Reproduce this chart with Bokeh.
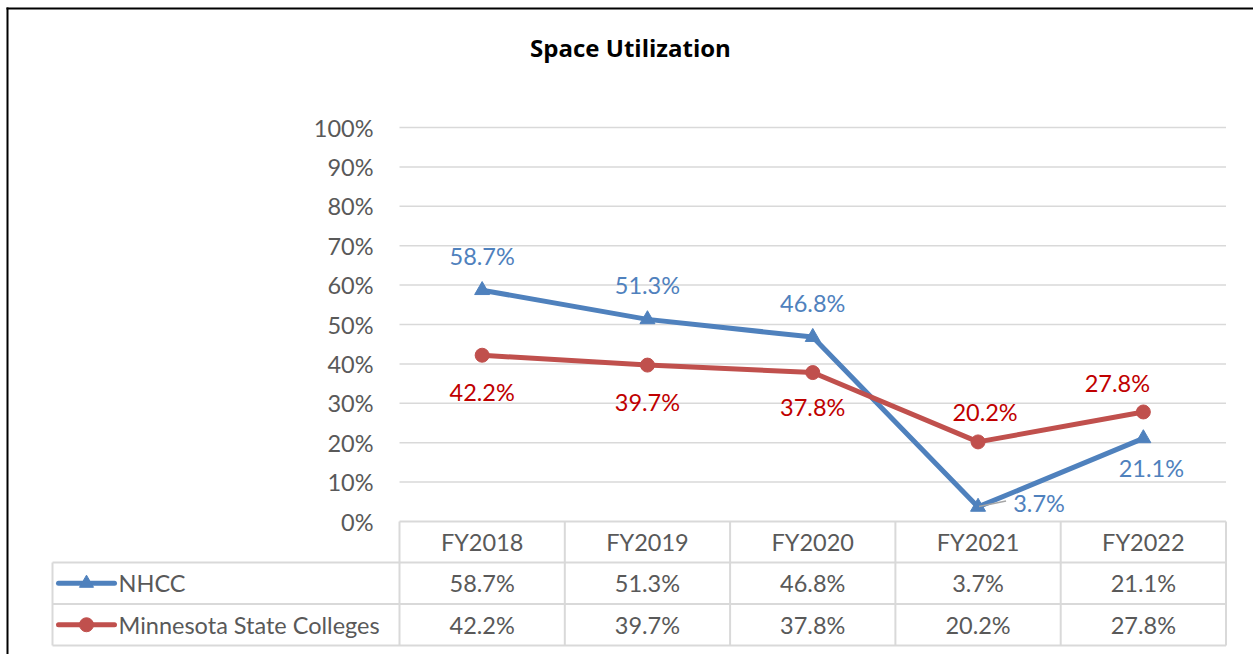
from bokeh.plotting import figure
from bokeh.models import Range1d
from bokeh.core.properties import value
from bokeh.embed import file_html
from bokeh.resources import INLINE

# ---------------- data ----------------
chart_title = "Space Utilization"
categories = ["FY2018", "FY2019", "FY2020", "FY2021", "FY2022"]
series_names = ["NHCC", "Minnesota State Colleges"]
nhcc = [58.7, 51.3, 46.8, 3.7, 21.1]
msc = [42.2, 39.7, 37.8, 20.2, 27.8]
y_ticks = [0, 10, 20, 30, 40, 50, 60, 70, 80, 90, 100]
y_tick_labels = ["0%", "10%", "20%", "30%", "40%", "50%", "60%", "70%", "80%", "90%", "100%"]

# ---------------- layout (canvas pixels) ----------------
W, H = 1253, 654
PLOT_L, PLOT_R = 399.0, 1225.5
Y100, Y0 = 127.0, 521.0
n = len(categories)
cw = (PLOT_R - PLOT_L) / n
py = (Y0 - Y100) / 100.0


def X(cx):
    return (cx - PLOT_L) / cw - 0.5


def Y(cy):
    return (Y0 - cy) / py


FONT = value("Lato")
FS = value("23.5px")
GRAY_TXT = "#595959"
GRID = "#d9d9d9"
BLUE = "#4f81bd"
RED = "#c0504d"
BLUE_TXT = "#4f81bd"
RED_TXT = "#c00000"

p = figure(width=W, height=H,
           x_range=Range1d(X(0), X(W)), y_range=Range1d(Y(H), Y(0)),
           x_axis_location=None, y_axis_location=None,
           toolbar_location=None, output_backend="svg", min_border=0)
p.outline_line_color = None
p.background_fill_color = "white"
p.border_fill_color = "white"
p.xgrid.visible = False
p.ygrid.visible = False

xs = list(range(n))

# gridlines
grid_ticks = y_ticks[1:]
p.segment(x0=[X(PLOT_L)] * len(grid_ticks), x1=[X(PLOT_R)] * len(grid_ticks),
          y0=grid_ticks, y1=grid_ticks, line_color=GRID, line_width=1.5)

# y tick labels
p.text(x=[X(373)] * len(y_ticks), y=y_ticks, text=y_tick_labels,
       text_font=FONT, text_font_size=FS, text_color=GRAY_TXT,
       text_align="right", text_baseline="middle")

# title
p.text(x=[X(630)], y=[Y(46.5)], text=[chart_title], text_font=value("Open Sans"),
       text_font_size=value("24px"), text_font_style="bold", text_color="black",
       text_align="center", text_baseline="middle")

# ---------------- data table ----------------
TBL_L = 52.0
R0, R1, R2, R3 = 521.0, 562.0, 603.5, 645.0
hx0 = [X(PLOT_L), X(TBL_L), X(TBL_L), X(TBL_L)]
hx1 = [X(PLOT_R)] * 4
hy = [Y(R0), Y(R1), Y(R2), Y(R3)]
p.segment(x0=hx0, x1=hx1, y0=hy, y1=hy, line_color=GRID, line_width=2)
vx = [X(TBL_L)] + [X(PLOT_L + k * cw) for k in range(n + 1)]
vy0 = [Y(R1)] + [Y(R0)] * (n + 1)
vy1 = [Y(R3)] * (n + 2)
p.segment(x0=vx, x1=vx, y0=vy0, y1=vy1, line_color=GRID, line_width=2)

p.text(x=xs, y=[Y((R0 + R1) / 2)] * n, text=categories, text_font=FONT,
       text_font_size=FS, text_color=GRAY_TXT, text_align="center", text_baseline="middle")
p.text(x=xs, y=[Y((R1 + R2) / 2)] * n, text=[f"{v:.1f}%" for v in nhcc], text_font=FONT,
       text_font_size=FS, text_color=GRAY_TXT, text_align="center", text_baseline="middle")
p.text(x=xs, y=[Y((R2 + R3) / 2)] * n, text=[f"{v:.1f}%" for v in msc], text_font=FONT,
       text_font_size=FS, text_color=GRAY_TXT, text_align="center", text_baseline="middle")

# legend keys in table
for (cy, col, mk) in [((R1 + R2) / 2, BLUE, "triangle"), ((R2 + R3) / 2, RED, "circle")]:
    p.line(x=[X(58), X(114)], y=[Y(cy), Y(cy)], line_color=col, line_width=5, line_cap="round")
    p.scatter(x=[X(86)], y=[Y(cy)], marker=mk, size=14, fill_color=col, line_color=col)
p.text(x=[X(118), X(118)], y=[Y((R1 + R2) / 2), Y((R2 + R3) / 2)], text=series_names,
       text_font=FONT, text_font_size=FS, text_color=GRAY_TXT,
       text_align="left", text_baseline="middle")

# ---------------- series ----------------
p.line(x=xs, y=nhcc, line_color=BLUE, line_width=5, line_join="round")
p.scatter(x=xs, y=nhcc, marker="triangle", size=15, fill_color=BLUE, line_color=BLUE)
p.line(x=xs, y=msc, line_color=RED, line_width=5, line_join="round")
p.scatter(x=xs, y=msc, marker="circle", size=14, fill_color=RED, line_color=RED)

# leader line for the 3.7% label
p.segment(x0=[xs[3] + 1 / cw], y0=[nhcc[3] + 0.5 / py], x1=[xs[3] + 28 / cw], y1=[nhcc[3] + 6 / py],
          line_color="#a6a6a6", line_width=1.5)

# data labels (pixel offsets from each point)
nhcc_dx = [0, 0, 0, 61, 8]
nhcc_dy = [-34, -34, -34.5, -4, 30]
msc_dx = [0, 0, 0, 7, -26]
msc_dy = [37, 36.5, 34.5, -30, -28.5]
p.text(x=xs, y=nhcc, text=[f"{v:.1f}%" for v in nhcc], x_offset=nhcc_dx, y_offset=nhcc_dy,
       text_font=FONT, text_font_size=FS, text_color=BLUE_TXT,
       text_align="center", text_baseline="middle")
p.text(x=xs, y=msc, text=[f"{v:.1f}%" for v in msc], x_offset=msc_dx, y_offset=msc_dy,
       text_font=FONT, text_font_size=FS, text_color=RED_TXT,
       text_align="center", text_baseline="middle")

# chart border (left and top visible, starting at the corner)
p.segment(x0=[X(7), X(7)], y0=[Y(H + 5), Y(8)], x1=[X(7), X(W + 5)], y1=[Y(8), Y(8)],
          line_color="black", line_width=2, line_cap="square")

open("out.html", "w").write(file_html(p, INLINE))
